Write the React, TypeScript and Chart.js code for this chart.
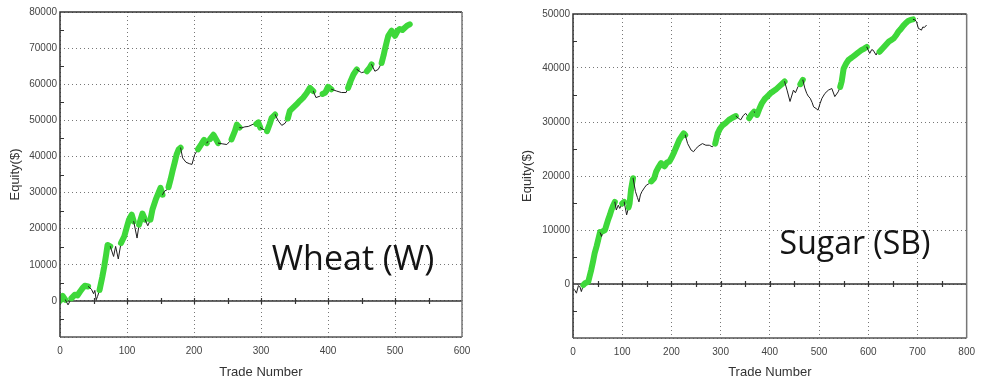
import React, { useEffect, useRef } from 'react';
import { Chart, registerables } from 'chart.js';

Chart.register(...registerables);

// ---------- Wheat (W) ----------
const wheatTrades = [
  0, 4, 8, 12, 17, 22, 26, 30, 34, 37, 42, 47, 50, 52, 54, 56, 59, 63, 66, 69,
  71, 75, 80, 83, 87, 91, 96, 100, 103, 107, 110, 115, 118, 123, 127, 131, 135, 138, 143, 150,
  153, 156, 160, 162, 165, 168, 171, 174, 177, 180, 183, 188, 193, 197, 201, 206, 211, 215, 219, 224,
  229, 236, 242, 249, 256, 261, 264, 268, 271, 276, 281, 288, 293, 296, 299, 303, 309, 313, 316, 321,
  326, 331, 336, 340, 343, 348, 353, 358, 363, 368, 373, 378, 382, 388, 392, 396, 400, 405, 413, 420,
  427, 430, 434, 438, 443, 450, 458, 462, 465, 470, 475, 480, 483, 485, 488, 490, 495, 500, 504, 507,
  511, 515, 518, 522,
];
const wheatEquity = [
  0, 1400, 300, -1100, 700, 1700, 1500, 2600, 3600, 4200, 4000, 3200, 2000, 2900, 300, 1200, 3000, 6500, 9500, 13000,
  15500, 15100, 12300, 15100, 11600, 16000, 17900, 20600, 22500, 23900, 22000, 17400, 21100, 24200, 22500, 20800, 22500, 25300, 28100, 31300,
  29400, 30400, 30800, 31500, 33600, 36000, 38200, 40500, 41900, 42400, 39600, 38400, 38000, 37800, 40500, 42000, 43400, 44600, 43700, 44800,
  46000, 43700, 43500, 43300, 44700, 47000, 48800, 48000, 47900, 48200, 48300, 48900, 49000, 49400, 48000, 47500, 47000, 49000, 50700, 51600,
  49800, 48600, 49200, 50500, 52600, 53500, 54400, 55400, 56300, 57500, 59000, 58100, 56300, 56700, 57300, 57700, 59300, 58600, 58100, 57700,
  57700, 59000, 61000, 62700, 64100, 63200, 63600, 64500, 65500, 63600, 64100, 65900, 68000, 69700, 72000, 73400, 74800, 73400, 74800, 75300,
  75000, 75700, 76200, 76600,
];
// 1 = winning run (green) from this trade to the next one
const wheatWinning = [
  1, 1, 0, 0, 1, 1, 1, 1, 1, 1, 0, 0, 0, 0, 0, 0, 1, 1, 1, 1,
  1, 0, 0, 0, 0, 1, 1, 1, 1, 1, 0, 0, 1, 1, 0, 0, 1, 1, 1, 1,
  0, 0, 0, 1, 1, 1, 1, 1, 1, 0, 0, 0, 0, 0, 0, 1, 1, 1, 0, 1,
  1, 0, 0, 0, 1, 1, 1, 0, 0, 0, 0, 0, 1, 1, 0, 0, 1, 1, 1, 0,
  0, 0, 0, 1, 1, 1, 1, 1, 1, 1, 1, 0, 0, 0, 1, 1, 1, 0, 0, 0,
  0, 1, 1, 1, 0, 0, 1, 1, 0, 0, 0, 1, 1, 1, 1, 1, 1, 1, 1, 1,
  1, 1, 1, 0,
];

// ---------- Sugar (SB) ----------
const sugarTrades = [
  0, 4, 7, 11, 14, 17, 21, 24, 28, 31, 34, 37, 41, 44, 48, 51, 55, 58, 61, 65,
  68, 71, 75, 78, 82, 85, 88, 92, 95, 100, 104, 109, 113, 115, 118, 122, 127, 131, 134, 137,
  140, 145, 149, 153, 159, 165, 169, 173, 179, 183, 186, 191, 196, 201, 206, 211, 216, 221, 225, 228,
  233, 240, 245, 250, 256, 263, 270, 277, 283, 289, 294, 299, 304, 310, 317, 324, 331, 336, 341, 346,
  351, 358, 363, 368, 374, 379, 384, 390, 396, 401, 407, 412, 418, 424, 430, 435, 441, 445, 448, 452,
  457, 462, 467, 471, 475, 478, 482, 486, 489, 494, 498, 502, 506, 512, 519, 526, 532, 539, 543, 546,
  550, 555, 560, 566, 573, 580, 586, 592, 597, 603, 607, 610, 616, 620, 623, 630, 636, 642, 647, 652,
  657, 661, 666, 671, 676, 681, 686, 691, 695, 698, 702, 705, 708, 711, 714, 718,
];
const sugarEquity = [
  -800, -1200, -1700, -300, -500, -1400, -200, 100, 300, 400, 1500, 2600, 4300, 5700, 7000, 8100, 9600, 8800, 9800, 10000,
  10900, 11800, 12800, 13700, 14600, 15200, 13700, 14600, 14000, 14900, 15200, 12800, 14200, 14900, 17500, 19600, 17100, 16000, 15200, 16500,
  17100, 17800, 18300, 18500, 19000, 19600, 20800, 21500, 22400, 22000, 21800, 22500, 22700, 23500, 24500, 25600, 26700, 27400, 27900, 27600,
  26000, 24800, 24500, 25100, 25600, 26000, 25700, 25700, 25400, 26000, 27900, 28800, 29400, 29800, 30400, 30800, 31100, 30700, 30400, 31200,
  31600, 30700, 31400, 31900, 31300, 32500, 33500, 34300, 34800, 35300, 35700, 36000, 36500, 37000, 37500, 35900, 33800, 35000, 35900, 35400,
  36500, 37000, 37800, 36300, 35300, 34800, 34400, 33600, 32800, 32500, 32200, 33400, 34400, 35300, 35900, 36200, 34700, 35600, 36500, 37500,
  39900, 40800, 41500, 41900, 42400, 42900, 43300, 43600, 43900, 42700, 43400, 43300, 42400, 43200, 43000, 43700, 44300, 44900, 45200, 45500,
  46100, 46700, 47200, 47800, 48300, 48700, 48900, 49000, 48900, 48600, 47300, 47200, 47000, 47600, 47500, 47900,
];
const sugarWinning = [
  0, 0, 0, 0, 0, 0, 1, 1, 1, 1, 1, 1, 1, 1, 1, 1, 0, 0, 1, 1,
  1, 1, 1, 1, 1, 0, 0, 0, 0, 1, 0, 0, 1, 1, 1, 0, 0, 0, 0, 0,
  0, 0, 0, 0, 1, 1, 1, 1, 1, 1, 1, 1, 1, 1, 1, 1, 1, 1, 1, 0,
  0, 0, 0, 0, 0, 0, 0, 0, 0, 1, 1, 1, 1, 1, 1, 1, 0, 0, 0, 0,
  0, 1, 1, 0, 1, 1, 1, 1, 1, 1, 1, 1, 1, 1, 0, 0, 0, 0, 0, 0,
  0, 1, 0, 0, 0, 0, 0, 0, 0, 0, 0, 0, 0, 0, 0, 0, 0, 0, 1, 1,
  1, 1, 1, 1, 1, 1, 1, 1, 0, 0, 0, 0, 0, 0, 1, 1, 1, 1, 1, 1,
  1, 1, 1, 1, 1, 1, 1, 0, 0, 0, 0, 0, 0, 0, 0, 0,
];

// axis ranges
const wheatXMax = 600;
const wheatYMin = -10000;
const wheatYMax = 80000;
const sugarXMax = 800;
const sugarYMin = -10000;
const sugarYMax = 50000;
const xStep = 100;
const yStep = 10000;

const GREEN = '#3ed83a';
const BLACK = '#1e1e1e';

type Geom = {
  left: number;
  width: number;
  height: number;
  padTop: number;
  padRight: number;
  yAxisWidth: number;
  xAxisHeight: number;
  yTitlePad: number;
  labelX: number;
  labelY: number;
  labelSize: number;
};

type Props = {
  trades: number[];
  equity: number[];
  winning: number[];
  xMax: number;
  yMin: number;
  yMax: number;
  label: string;
  geom: Geom;
};

function EquityChart({ trades, equity, winning, xMax, yMin, yMax, label, geom }: Props) {
  const ref = useRef<HTMLCanvasElement>(null);

  useEffect(() => {
    const canvas = ref.current;
    if (!canvas) return;

    const decor = {
      id: 'decor',
      beforeDatasetsDraw(chart: any) {
        const { ctx, chartArea: a, scales } = chart;
        const x = scales.x;
        const y = scales.y;
        const y0 = y.getPixelForValue(0);
        ctx.save();
        ctx.strokeStyle = '#333';
        ctx.lineWidth = 1.5;
        ctx.beginPath();
        ctx.moveTo(a.left, y0);
        ctx.lineTo(a.right, y0);
        ctx.stroke();
        ctx.lineWidth = 1.2;
        ctx.beginPath();
        for (let v = xStep / 2; v < xMax; v += xStep / 2) {
          const px = Math.round(x.getPixelForValue(v)) + 0.5;
          ctx.moveTo(px, y0 - 3);
          ctx.lineTo(px, y0 + 3);
        }
        for (let v = yMin + yStep / 2; v < yMax; v += yStep) {
          const py = Math.round(y.getPixelForValue(v)) + 0.5;
          ctx.moveTo(a.left, py);
          ctx.lineTo(a.left + 4, py);
        }
        ctx.stroke();
        ctx.restore();
      },
      afterDraw(chart: any) {
        const { ctx, chartArea: a } = chart;
        ctx.save();
        ctx.lineWidth = 1.5;
        ctx.strokeStyle = '#333';
        ctx.beginPath();
        ctx.moveTo(a.left, a.bottom);
        ctx.lineTo(a.left, a.top);
        ctx.lineTo(a.right, a.top);
        ctx.stroke();
        ctx.strokeStyle = '#555';
        ctx.beginPath();
        ctx.moveTo(a.left, a.bottom);
        ctx.lineTo(a.right, a.bottom);
        ctx.stroke();
        ctx.strokeStyle = '#777';
        ctx.beginPath();
        ctx.moveTo(a.right, a.top);
        ctx.lineTo(a.right, a.bottom);
        ctx.stroke();
        ctx.fillStyle = '#141414';
        ctx.font = `${geom.labelSize}px "Open Sans", "Noto Sans", sans-serif`;
        ctx.textAlign = 'center';
        ctx.textBaseline = 'alphabetic';
        ctx.fillText(label, geom.labelX, geom.labelY);
        ctx.restore();
      },
    };

    const chart = new Chart(canvas, {
      type: 'line',
      data: {
        datasets: [
          {
            data: trades.map((t, i) => ({ x: t, y: equity[i] })),
            borderColor: BLACK,
            borderWidth: 1,
            pointRadius: 0,
            tension: 0,
            borderCapStyle: 'round',
            borderJoinStyle: 'round',
            segment: {
              borderColor: (c: any) => (winning[c.p0DataIndex] ? GREEN : BLACK),
              borderWidth: (c: any) => (winning[c.p0DataIndex] ? 6 : 1),
            },
          } as any,
        ],
      },
      options: {
        animation: false,
        responsive: false,
        maintainAspectRatio: false,
        layout: { padding: { left: 0, top: geom.padTop, right: geom.padRight, bottom: 0 } },
        plugins: { legend: { display: false }, tooltip: { enabled: false } },
        scales: {
          x: {
            type: 'linear',
            min: 0,
            max: xMax,
            afterFit: (s: any) => {
              s.height = geom.xAxisHeight;
            },
            ticks: {
              stepSize: xStep,
              padding: 8,
              color: '#444',
              font: { family: '"Liberation Sans", Arial, sans-serif', size: 10 },
              maxRotation: 0,
            },
            grid: { color: '#777', lineWidth: 1, drawTicks: false },
            border: { display: false, dash: [1, 3] },
            title: {
              display: true,
              text: 'Trade Number',
              color: '#333',
              font: { family: '"Liberation Sans", Arial, sans-serif', size: 13 },
              padding: { top: 0, bottom: 5 },
            },
          },
          y: {
            type: 'linear',
            min: yMin,
            max: yMax,
            afterFit: (s: any) => {
              s.width = geom.yAxisWidth;
            },
            ticks: {
              stepSize: yStep,
              padding: 3,
              color: '#444',
              font: { family: '"Liberation Sans", Arial, sans-serif', size: 10 },
              callback: (v: any) => (v === yMin ? '' : String(v)),
            },
            grid: { color: '#777', lineWidth: 1, drawTicks: false },
            border: { display: false, dash: [1, 3] },
            title: {
              display: true,
              text: 'Equity($)',
              color: '#333',
              font: { family: '"Liberation Sans", Arial, sans-serif', size: 13 },
              padding: { top: geom.yTitlePad, bottom: 0 },
            },
          },
        },
      },
      plugins: [decor],
    } as any);

    return () => chart.destroy();
  }, []);

  return (
    <canvas
      ref={ref}
      width={geom.width}
      height={geom.height}
      style={{ position: 'absolute', left: geom.left, top: 0, width: geom.width, height: geom.height }}
    />
  );
}

const wheatGeom: Geom = {
  left: 0,
  width: 480,
  height: 385,
  padTop: 12,
  padRight: 18,
  yAxisWidth: 60,
  xAxisHeight: 48,
  yTitlePad: 8,
  labelX: 353,
  labelY: 270,
  labelSize: 34,
};

const sugarGeom: Geom = {
  left: 490,
  width: 493,
  height: 385,
  padTop: 14,
  padRight: 14,
  yAxisWidth: 83,
  xAxisHeight: 47,
  yTitlePad: 30,
  labelX: 365,
  labelY: 254,
  labelSize: 32,
};

export default function App() {
  return (
    <div style={{ position: 'absolute', left: 0, top: 0, width: 983, height: 385, background: '#fff' }}>
      <EquityChart
        trades={wheatTrades}
        equity={wheatEquity}
        winning={wheatWinning}
        xMax={wheatXMax}
        yMin={wheatYMin}
        yMax={wheatYMax}
        label="Wheat (W)"
        geom={wheatGeom}
      />
      <EquityChart
        trades={sugarTrades}
        equity={sugarEquity}
        winning={sugarWinning}
        xMax={sugarXMax}
        yMin={sugarYMin}
        yMax={sugarYMax}
        label="Sugar (SB)"
        geom={sugarGeom}
      />
    </div>
  );
}
